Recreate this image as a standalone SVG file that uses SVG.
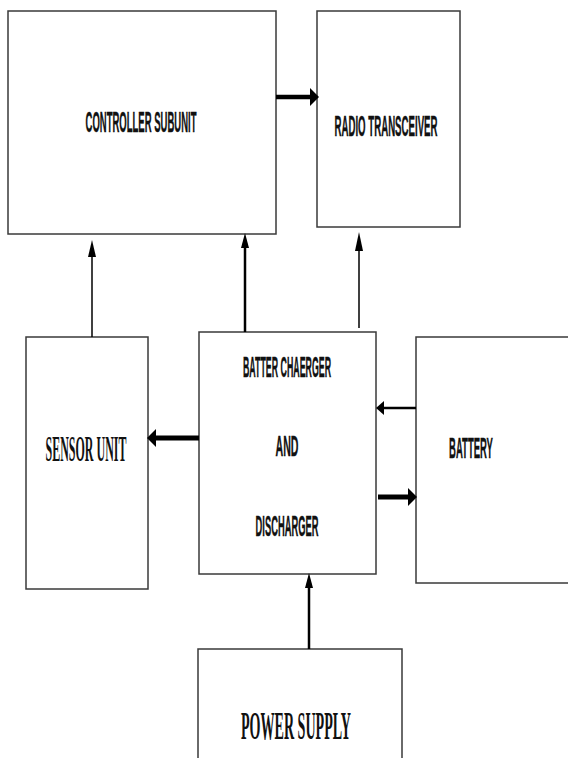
<svg xmlns="http://www.w3.org/2000/svg" width="568" height="758" viewBox="0 0 568 758">
<style>
.box{fill:#fff;stroke:#3a3a3a;stroke-width:1.5}
.t{font-family:"Liberation Sans",Arial,sans-serif;font-weight:bold;font-size:29px;fill:#111;stroke:#111;stroke-width:0.4;text-anchor:middle}
.s{font-family:"Liberation Serif","Times New Roman",serif;font-weight:bold;fill:#111;text-anchor:middle}
.ln{stroke:#000;fill:none}
.hd{fill:#000}
</style>
<rect width="568" height="758" fill="#fff"/>
<g id="controller"><rect class="box" x="8" y="11" width="268" height="223"/><text class="t" transform="translate(141,132) scale(0.352,1)" x="0" y="0" textLength="315" lengthAdjust="spacingAndGlyphs">CONTROLLER SUBUNIT</text></g>
<g id="radio"><rect class="box" x="317" y="11" width="143" height="216"/><text class="t" transform="translate(386,136) scale(0.348,1)" x="0" y="0" textLength="296" lengthAdjust="spacingAndGlyphs">RADIO TRANSCEIVER</text></g>
<g id="sensor"><rect class="box" x="26" y="337" width="122" height="252"/><text class="s" font-size="35" transform="translate(86,461) scale(0.353,1)" x="0" y="0" textLength="229" lengthAdjust="spacingAndGlyphs">SENSOR UNIT</text></g>
<g id="charger"><rect class="box" x="199" y="332" width="177" height="242"/><text class="t" transform="translate(287,377) scale(0.325,1)" x="0" y="0" textLength="271" lengthAdjust="spacingAndGlyphs">BATTER CHAERGER</text><text class="t" transform="translate(287,456) scale(0.39,1)" x="0" y="0" textLength="59" lengthAdjust="spacingAndGlyphs">AND</text><text class="t" transform="translate(287,536) scale(0.347,1)" x="0" y="0" textLength="181" lengthAdjust="spacingAndGlyphs">DISCHARGER</text></g>
<g id="battery"><rect class="box" x="416" y="337" width="170" height="246"/><text class="t" transform="translate(471,458) scale(0.345,1)" x="0" y="0" textLength="127" lengthAdjust="spacingAndGlyphs">BATTERY</text></g>
<g id="power"><path class="box" d="M198 760 V649 H402 V760"/><text class="s" font-size="39" transform="translate(296,739) scale(0.356,1)" x="0" y="0" textLength="309" lengthAdjust="spacingAndGlyphs">POWER SUPPLY</text></g>
<g id="connectors">
<line class="ln" x1="276" y1="97" x2="310" y2="97" stroke-width="4.5"/><polygon class="hd" points="319,97 310,88 310,106"/>
<line class="ln" x1="92" y1="337" x2="92" y2="255" stroke-width="1.5"/><polygon class="hd" points="92,240 88,257 96,257"/>
<line class="ln" x1="245" y1="332" x2="245" y2="245" stroke-width="2.5"/><polygon class="hd" points="245,233 241,248 249,248"/>
<line class="ln" x1="359" y1="328" x2="359" y2="248" stroke-width="1.5"/><polygon class="hd" points="359,232 355,251 363,251"/>
<line class="ln" x1="416" y1="408" x2="382" y2="408" stroke-width="2.5"/><polygon class="hd" points="376,408 384,401 384,415"/>
<line class="ln" x1="199" y1="438" x2="156" y2="438" stroke-width="5"/><polygon class="hd" points="147,438 156,429 156,447"/>
<line class="ln" x1="378" y1="497" x2="409" y2="497" stroke-width="5"/><polygon class="hd" points="417,497 408,488 408,506"/>
<line class="ln" x1="309" y1="649" x2="309" y2="585" stroke-width="2.5"/><polygon class="hd" points="309,573 305,588 313,588"/>
</g>
</svg>
